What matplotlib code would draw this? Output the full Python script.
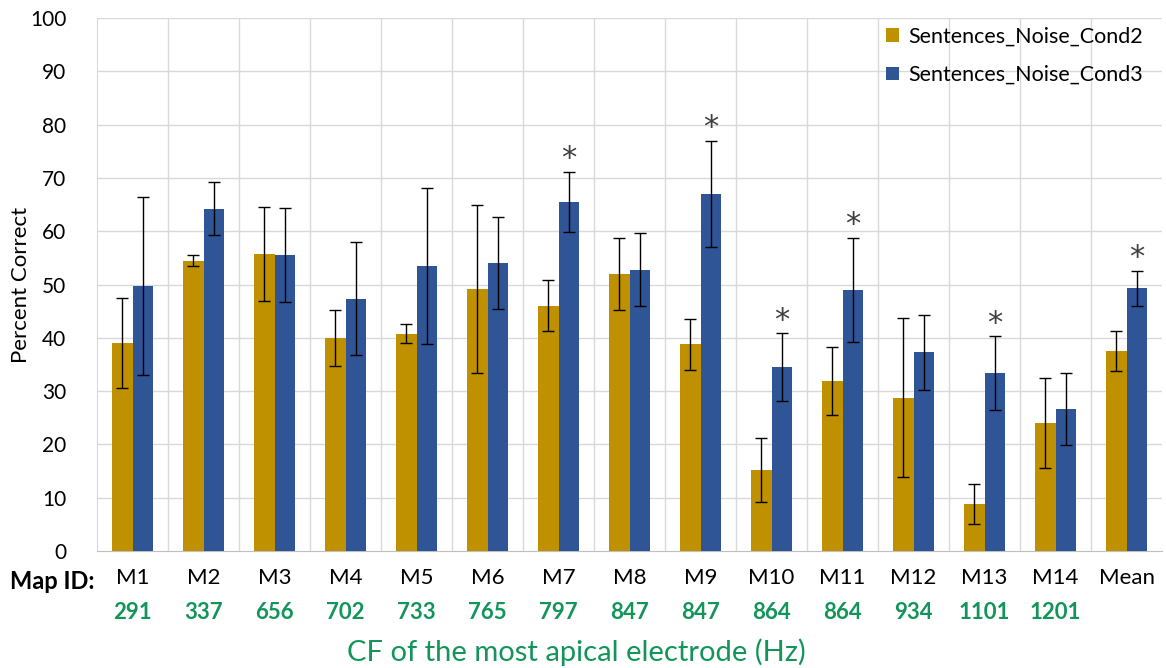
import numpy as np
import matplotlib
matplotlib.use("Agg")
import matplotlib.pyplot as plt

plt.rcParams['font.family'] = ['Lato', 'DejaVu Sans']

map_ids = ['M1', 'M2', 'M3', 'M4', 'M5', 'M6', 'M7', 'M8', 'M9', 'M10',
           'M11', 'M12', 'M13', 'M14', 'Mean']
cf_hz = ['291', '337', '656', '702', '733', '765', '797', '847', '847', '864',
         '864', '934', '1101', '1201', '']

cond2 = [39.0, 54.5, 55.8, 40.0, 40.8, 49.2, 46.0, 52.0, 38.8, 15.2,
         31.9, 28.8, 8.8, 24.0, 37.5]
cond2_err = [8.5, 1.0, 8.8, 5.3, 1.8, 15.8, 4.8, 6.7, 4.8, 6.0,
             6.3, 15.0, 3.8, 8.5, 3.8]
cond3 = [49.7, 64.2, 55.6, 47.3, 53.5, 54.0, 65.5, 52.8, 67.0, 34.5,
         49.0, 37.3, 33.4, 26.6, 49.3]
cond3_err = [16.7, 5.0, 8.8, 10.6, 14.6, 8.6, 5.7, 6.8, 10.0, 6.4,
             9.8, 7.0, 6.9, 6.8, 3.3]
significant = ['M7', 'M9', 'M10', 'M11', 'M13', 'Mean']

gold = '#BF9000'
blue = '#2F5597'
green = '#13955A'
grid_col = '#D9D9D9'

fig = plt.figure(figsize=(11.66, 6.68), dpi=100)
ax = fig.add_axes([0.0832, 0.1751, 0.9134, 0.7979])

x = np.arange(len(map_ids))
w = 0.285
err_kw = dict(ecolor='black', elinewidth=1.0, capsize=4, capthick=1.0)
ax.bar(x - w / 2, cond2, w, yerr=cond2_err, color=gold, error_kw=err_kw,
       label='Sentences_Noise_Cond2', zorder=3)
ax.bar(x + w / 2, cond3, w, yerr=cond3_err, color=blue, error_kw=err_kw,
       label='Sentences_Noise_Cond3', zorder=3)

# significance markers just above the cond3 error bars
for i, m in enumerate(map_ids):
    if m in significant:
        ax.text(x[i] + w / 2, cond3[i] + cond3_err[i] + 2.4, '*', ha='center',
                va='center', fontsize=22, color='#404040', zorder=4,
                family='DejaVu Sans')

ax.set_xlim(-0.5, len(map_ids) - 0.5)
ax.set_ylim(0, 100)
ax.set_yticks(range(0, 101, 10))
ax.set_xticks(x)
ax.set_xticklabels(map_ids, fontsize=16)
ax.tick_params(axis='y', labelsize=15, length=0, pad=22)
ax.tick_params(axis='x', length=0, pad=12)
ax.set_ylabel('Percent Correct', fontsize=16)
ax.yaxis.set_label_coords(-0.062, 0.5)

# grid: horizontal at ticks, vertical at category boundaries
for yv in range(10, 101, 10):
    ax.axhline(yv, color=grid_col, lw=1, zorder=0)
for xv in np.arange(0.5, len(map_ids) - 0.5, 1):
    ax.axvline(xv, color=grid_col, lw=1, zorder=0)
for s in ['top', 'right']:
    ax.spines[s].set_visible(False)
ax.spines['left'].set_color(grid_col)
ax.spines['bottom'].set_color('#BFBFBF')

trans = ax.get_xaxis_transform()
for i, c in enumerate(cf_hz):
    ax.text(x[i], -0.115, c, transform=trans, ha='center', va='center',
            fontsize=16, fontweight='bold', color=green)
ax.text(-0.002, -0.057, 'Map ID:', transform=ax.transAxes, ha='right',
        va='center', fontsize=17, fontweight='bold', color='black')
ax.text(0.45, -0.19, 'CF of the most apical electrode (Hz)',
        transform=ax.transAxes, ha='center', va='center', fontsize=21,
        color=green)

ax.legend(loc='upper right', frameon=False, fontsize=15.5, handlelength=0.6,
          handleheight=0.6, handletextpad=0.4, labelspacing=0.85,
          bbox_to_anchor=(1.0, 1.02))

fig.savefig('out.png', dpi=100)
